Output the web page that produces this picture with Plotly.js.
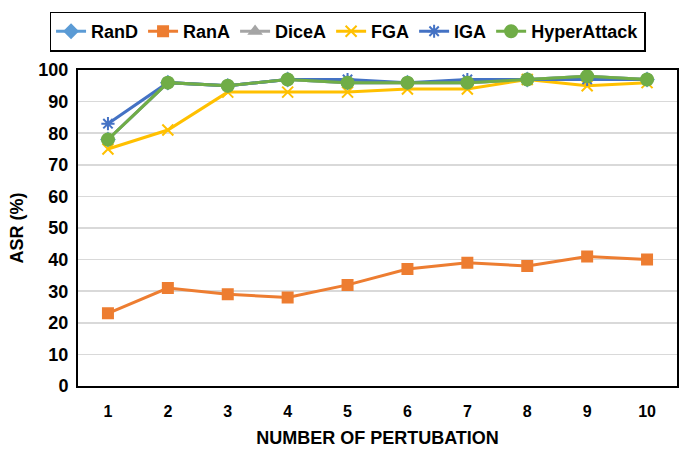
<!DOCTYPE html>
<html>
<head>
<meta charset="utf-8">
<script src="https://cdn.plot.ly/plotly-3.0.1.min.js"></script>
<style>html,body{margin:0;padding:0;background:#fff;}#chart{width:700px;height:450px;}</style>
</head>
<body>
<div id="chart"></div>
<script>
const categories = ['1','2','3','4','5','6','7','8','9','10'];
const randValues = [78, 96, 95, 97, 96, 96, 96, 97, 98, 97];
const ranaValues = [23, 31, 29, 28, 32, 37, 39, 38, 41, 40];
const diceaValues = [78, 96, 95, 97, 96, 96, 96, 97, 98, 97];
const fgaValues = [75, 81, 93, 93, 93, 94, 94, 97, 95, 96];
const igaValues = [83, 96, 95, 97, 97, 96, 97, 97, 97, 97];
const hyperValues = [78, 96, 95, 97, 96, 96, 96, 97, 98, 97];
const yTicks = [0,10,20,30,40,50,60,70,80,90,100];

const seriesDefs = [
  {name:'RanD', y:randValues, color:'#5B9BD5', symbol:'diamond', size:10},
  {name:'RanA', y:ranaValues, color:'#ED7D31', symbol:'square', size:10},
  {name:'DiceA', y:diceaValues, color:'#A5A5A5', symbol:'triangle-up', size:10},
  {name:'FGA', y:fgaValues, color:'#FFC000', symbol:'x-thin-open', size:11},
  {name:'IGA', y:igaValues, color:'#4472C4', symbol:'asterisk-open', size:11},
  {name:'HyperAttack', y:hyperValues, color:'#70AD47', symbol:'circle', size:12}
];

const traces = seriesDefs.map(s => ({
  type:'scatter', mode:'lines+markers', name:s.name,
  x:categories, y:s.y,
  line:{color:s.color, width:3},
  marker:{color:s.color, symbol:s.symbol, size:s.size, line:{color:s.color, width:2}}
}));

const fam = '"Liberation Sans", Arial, sans-serif';

const layout = {
  width:700, height:450,
  margin:{l:78, r:23, t:70, b:64},
  paper_bgcolor:'#fff', plot_bgcolor:'#fff',
  font:{family:fam, color:'#000', size:16},
  showlegend:true,
  legend:{
    orientation:'h', x:0.45, xanchor:'center', y:1.185, yanchor:'top',
    bordercolor:'#000', borderwidth:1.5,
    font:{family:fam, size:18, color:'#000', weight:'bold'},
    tracegroupgap:0
  },
  xaxis:{
    type:'category', range:[-0.5, 9.5],
    showline:true, linecolor:'#000', linewidth:2, mirror:true,
    showgrid:false, ticks:'', ticklabelstandoff:10,
    tickfont:{family:fam, size:16, weight:'bold'},
    title:{text:'NUMBER OF PERTUBATION', font:{family:fam, size:18, weight:'bold'}, standoff:12}
  },
  yaxis:{
    range:[0,100], tickvals:yTicks, ticktext:yTicks.map(String),
    showline:true, linecolor:'#000', linewidth:2, mirror:true,
    showgrid:true, gridcolor:'#D9D9D9', gridwidth:1.5, zeroline:false, ticks:'',
    ticklabelstandoff:4,
    tickfont:{family:fam, size:18, weight:'bold'},
    title:{text:'ASR (%)', font:{family:fam, size:18, weight:'bold'}, standoff:10}
  }
};

Plotly.newPlot('chart', traces, layout, {displayModeBar:false, staticPlot:true});
</script>
</body>
</html>
